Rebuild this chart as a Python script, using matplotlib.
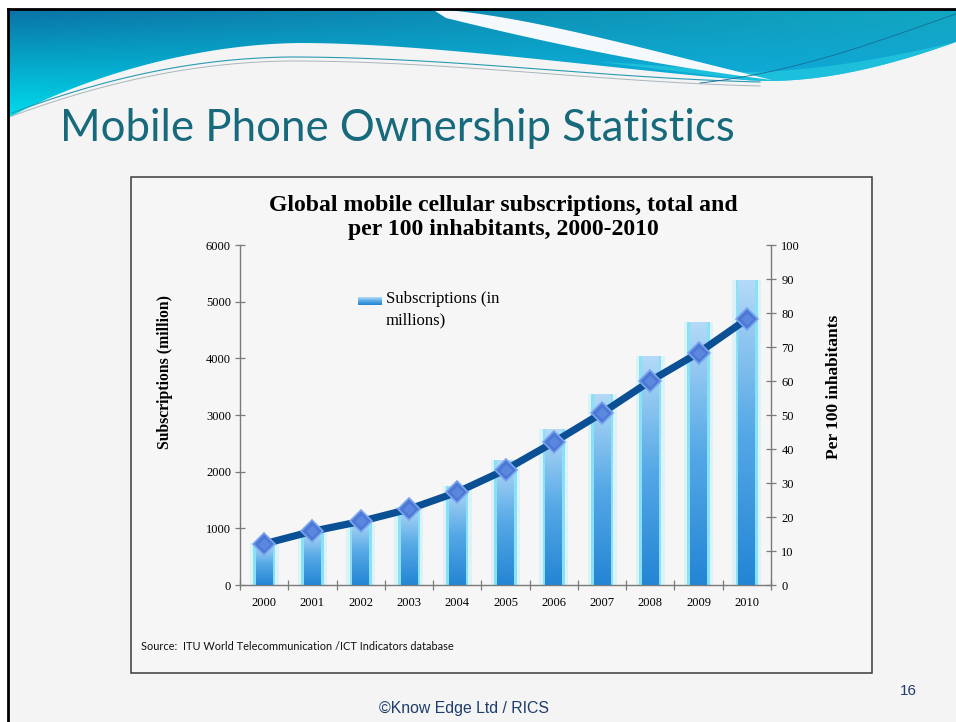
import numpy as np
import matplotlib
matplotlib.use('Agg')
import matplotlib.pyplot as plt
from matplotlib.patches import Rectangle, Polygon
from matplotlib.colors import LinearSegmentedColormap, to_rgb

# ---------------- data ----------------
years = ['2000', '2001', '2002', '2003', '2004', '2005', '2006', '2007', '2008', '2009', '2010']
subscriptions = [735, 970, 1150, 1380, 1750, 2200, 2750, 3370, 4040, 4650, 5380]
per_100 = [12.1, 15.8, 18.7, 22.3, 27.3, 33.9, 42.0, 50.6, 60.0, 68.3, 78.2]
left_ticks = [0, 1000, 2000, 3000, 4000, 5000, 6000]
right_ticks = [0, 10, 20, 30, 40, 50, 60, 70, 80, 90, 100]

slide_title = 'Mobile Phone Ownership Statistics'
chart_title = ['Global mobile cellular subscriptions, total and',
               'per 100 inhabitants, 2000-2010']
left_label = 'Subscriptions (million)'
right_label = 'Per 100 inhabitants'
legend_label = 'Subscriptions (in\nmillions)'
source_text = 'Source:  ITU World Telecommunication /ICT Indicators database'
footer_text = '\u00a9Know Edge Ltd / RICS'
page_number = '16'

W, H = 956, 722
SERIF = 'Liberation Serif'

fig = plt.figure(figsize=(W / 100, H / 100), dpi=100)
fig.patch.set_facecolor('white')
renderer = fig.canvas.get_renderer()

bg = fig.add_axes([0, 0, 1, 1])
bg.set_xlim(0, W)
bg.set_ylim(H, 0)
bg.axis('off')


def fit(t, target, axis='w'):
    for _ in range(3):
        bb = t.get_window_extent(renderer)
        cur = bb.width if axis == 'w' else bb.height
        t.set_fontsize(t.get_fontsize() * target / cur)


def bez(p0, p1, p2, p3, n=60):
    p0, p1, p2, p3 = map(np.asarray, (p0, p1, p2, p3))
    t = np.linspace(0, 1, n)[:, None]
    return (1 - t) ** 3 * p0 + 3 * (1 - t) ** 2 * t * p1 + 3 * (1 - t) * t ** 2 * p2 + t ** 3 * p3


# slide background
bg.add_patch(Rectangle((8, 9), W - 8, H - 9, facecolor='#F4F4F4', edgecolor='none', zorder=0))

# header swoosh
lower = np.vstack([
    bez((8, 118), (90, 74), (200, 44), (300, 43)),
    bez((300, 43), (430, 43), (620, 70), (745, 80)),
    bez((745, 80), (820, 86), (900, 62), (956, 42)),
])
header_poly = np.vstack([[[8, 9], [956, 9]], lower[::-1]])
hp = Polygon(header_poly, closed=True, facecolor='none', edgecolor='none', zorder=1)
bg.add_patch(hp)
ny, nx = 120, 200
yy = np.linspace(9, 120, ny)[:, None]
xx = np.linspace(0, W, nx)[None, :]
ty = np.clip((yy - 9) / 105.0, 0, 1)
tx = xx / W
top_l, top_r = np.array(to_rgb('#0A72A6')), np.array(to_rgb('#12A7C0'))
bot_l, bot_r = np.array(to_rgb('#00DAEA')), np.array(to_rgb('#10A8E6'))
top = top_l * (1 - tx[..., None]) + top_r * tx[..., None]
bot = bot_l * (1 - tx[..., None]) + bot_r * tx[..., None]
img = top * (1 - ty[..., None]) + bot * ty[..., None]
im = bg.imshow(img, extent=(0, W, 120, 9), origin='upper', aspect='auto', zorder=1)
im.set_clip_path(hp)

# cyan band beneath the bright blue on the right
cyan = np.vstack([
    bez((600, 62), (680, 72), (720, 76), (745, 80)),
    bez((745, 80), (820, 86), (900, 62), (956, 42)),
    bez((956, 42), (900, 55), (820, 72), (745, 72)),
    bez((745, 72), (700, 70), (650, 64), (600, 62)),
])
bg.add_patch(Polygon(cyan, closed=True, facecolor='#22C6DE', edgecolor='none', alpha=0.8, zorder=2))

# white streak
streak = np.vstack([
    bez((432, 9), (520, 14), (640, 48), (772, 80)),
    bez((772, 80), (660, 66), (560, 46), (446, 18)),
])
bg.add_patch(Polygon(streak, closed=True, facecolor='#F6F9FB', edgecolor='none', zorder=2))

# thin lines
la = np.vstack([bez((12, 113), (110, 76), (200, 58), (290, 57)),
                bez((290, 57), (450, 57), (600, 78), (760, 82))])
bg.plot(la[:, 0], la[:, 1], color='#2A9AB2', lw=0.8, zorder=3)
lb = np.vstack([bez((12, 116), (110, 80), (200, 62), (290, 61)),
                bez((290, 61), (450, 61), (600, 82), (760, 86))])
bg.plot(lb[:, 0], lb[:, 1], color='#A9B6BC', lw=0.7, zorder=3)
lc = bez((700, 83), (800, 72), (880, 40), (956, 14))
bg.plot(lc[:, 0], lc[:, 1], color='#1A6A96', lw=0.6, zorder=3)

# slide border
bg.plot([8, 8], [H, 9], color='black', lw=2.0, zorder=5, solid_capstyle='projecting')
bg.plot([8, W], [9, 9], color='black', lw=2.0, zorder=5, solid_capstyle='projecting')

# slide title
t = bg.text(60, 141, slide_title, fontfamily='Lato', color='#17697C',
            fontsize=30, va='baseline', ha='left', zorder=6)
fit(t, 675)

# chart box
bg.add_patch(Rectangle((131, 177), 872 - 131, 673 - 177, facecolor='#F6F6F6',
                       edgecolor='#3A3A3A', lw=1.1, zorder=4))

# chart title
for i, line in enumerate(chart_title):
    ct = bg.text(503, 205 + 25 * i, line, fontfamily=SERIF, fontweight='bold',
                 fontsize=14, ha='center', va='center', color='black', zorder=6)
    if i == 0:
        fit(ct, 469)
        fs_title = ct.get_fontsize()
    else:
        ct.set_fontsize(fs_title)

# axis labels
yl = bg.text(165, 372, left_label, rotation=90, fontfamily=SERIF, fontweight='bold',
             fontsize=10, ha='center', va='center', zorder=6)
fit(yl, 154, 'h')
yr = bg.text(834, 387, right_label, rotation=90, fontfamily=SERIF, fontweight='bold',
             fontsize=10, ha='center', va='center', zorder=6)
fit(yr, 145, 'h')

# source / footer
st = bg.text(141, 647, source_text, fontfamily='Lato', fontsize=7, ha='left', va='center',
             color='#111111', zorder=6)
fit(st, 312)
ft = bg.text(464, 708, footer_text, fontfamily='Liberation Sans', fontsize=10,
             ha='center', va='center', color='#1F3D6B', zorder=6)
fit(ft, 171)
pn = bg.text(908, 691, page_number, fontfamily='Liberation Sans', fontsize=11,
             ha='center', va='center', color='#1F3D6B', zorder=6)

# ---------------- main chart ----------------
ax = fig.add_axes([240 / W, 1 - 585 / H, (771 - 240) / W, (585 - 245) / H])
ax.set_facecolor('none')
x = np.arange(len(years))
ax.set_xlim(-0.5, len(years) - 0.5)
ax.set_ylim(0, 6000)

bar_cmap = LinearSegmentedColormap.from_list('bar', ['#2485D4', '#55A8E6', '#B4DAF7'])
ax.bar(x, subscriptions, width=0.60, color='#DCF1F8', zorder=1)
ax.bar(x, subscriptions, width=0.46, color='#86E2F4', zorder=2)
core = ax.bar(x, subscriptions, width=0.35, color='#5AAAE6', zorder=3)
grad = np.linspace(0, 1, 256).reshape(-1, 1)
for p in core.patches:
    x0, w_, h_ = p.get_x(), p.get_width(), p.get_height()
    gi = ax.imshow(grad, extent=(x0, x0 + w_, 0, h_), origin='lower', aspect='auto',
                   cmap=bar_cmap, zorder=3)
    gi.set_clip_path(p)
ax.set_xlim(-0.5, len(years) - 0.5)
ax.set_ylim(0, 6000)

TICK_FS = 9
ax.set_xticks(x)
ax.set_xticklabels(years, fontfamily=SERIF, fontsize=TICK_FS)
ax.set_xticks(np.arange(-0.5, len(years), 1), minor=True)
ax.tick_params(axis='x', which='major', length=0, pad=9)
ax.tick_params(axis='x', which='minor', direction='inout', length=7, width=0.9, color='#7A7A7A')
ax.set_yticks(left_ticks)
ax.set_yticklabels([str(v) for v in left_ticks], fontfamily=SERIF, fontsize=TICK_FS)
ax.tick_params(axis='y', direction='inout', length=7, width=0.9, color='#7A7A7A', pad=3)
for s in ['top', 'right']:
    ax.spines[s].set_visible(False)
for s in ['left', 'bottom']:
    ax.spines[s].set_color('#7A7A7A')
    ax.spines[s].set_linewidth(1.0)

ax2 = ax.twinx()
ax2.set_ylim(0, 100)
ax2.plot(x, per_100, color='#0B4F94', lw=5.2, solid_capstyle='round',
         solid_joinstyle='round', zorder=4)
ax2.plot(x, per_100, linestyle='none', marker='D', markersize=11,
         markerfacecolor='#4C78D6', markeredgecolor='#7BA6EE', markeredgewidth=1.2, zorder=5)
ax2.plot(x, per_100, linestyle='none', marker='D', markersize=6,
         markerfacecolor='#5B87DF', markeredgecolor='none', zorder=6)
ax2.set_yticks(right_ticks)
ax2.set_yticklabels([str(v) for v in right_ticks], fontfamily=SERIF, fontsize=TICK_FS)
ax2.tick_params(axis='y', direction='inout', length=7, width=0.9, color='#7A7A7A', pad=4)
for s in ['top', 'left', 'bottom']:
    ax2.spines[s].set_visible(False)
ax2.spines['right'].set_color('#7A7A7A')
ax2.spines['right'].set_linewidth(1.0)

# legend (handle + label)
lr = Rectangle((358, 297), 24, 8, facecolor='none', edgecolor='none', zorder=6)
bg.add_patch(lr)
li = bg.imshow(np.linspace(1, 0, 16).reshape(-1, 1), extent=(358, 382, 305, 297), origin='upper',
               aspect='auto', cmap=bar_cmap, zorder=6)
li.set_clip_path(lr)
bg.set_xlim(0, W)
bg.set_ylim(H, 0)
lt = bg.text(386, 291, legend_label, fontfamily=SERIF, fontsize=12, ha='left', va='top',
             linespacing=1.45, zorder=6)

fig.savefig('out.png', dpi=100, facecolor='white')
